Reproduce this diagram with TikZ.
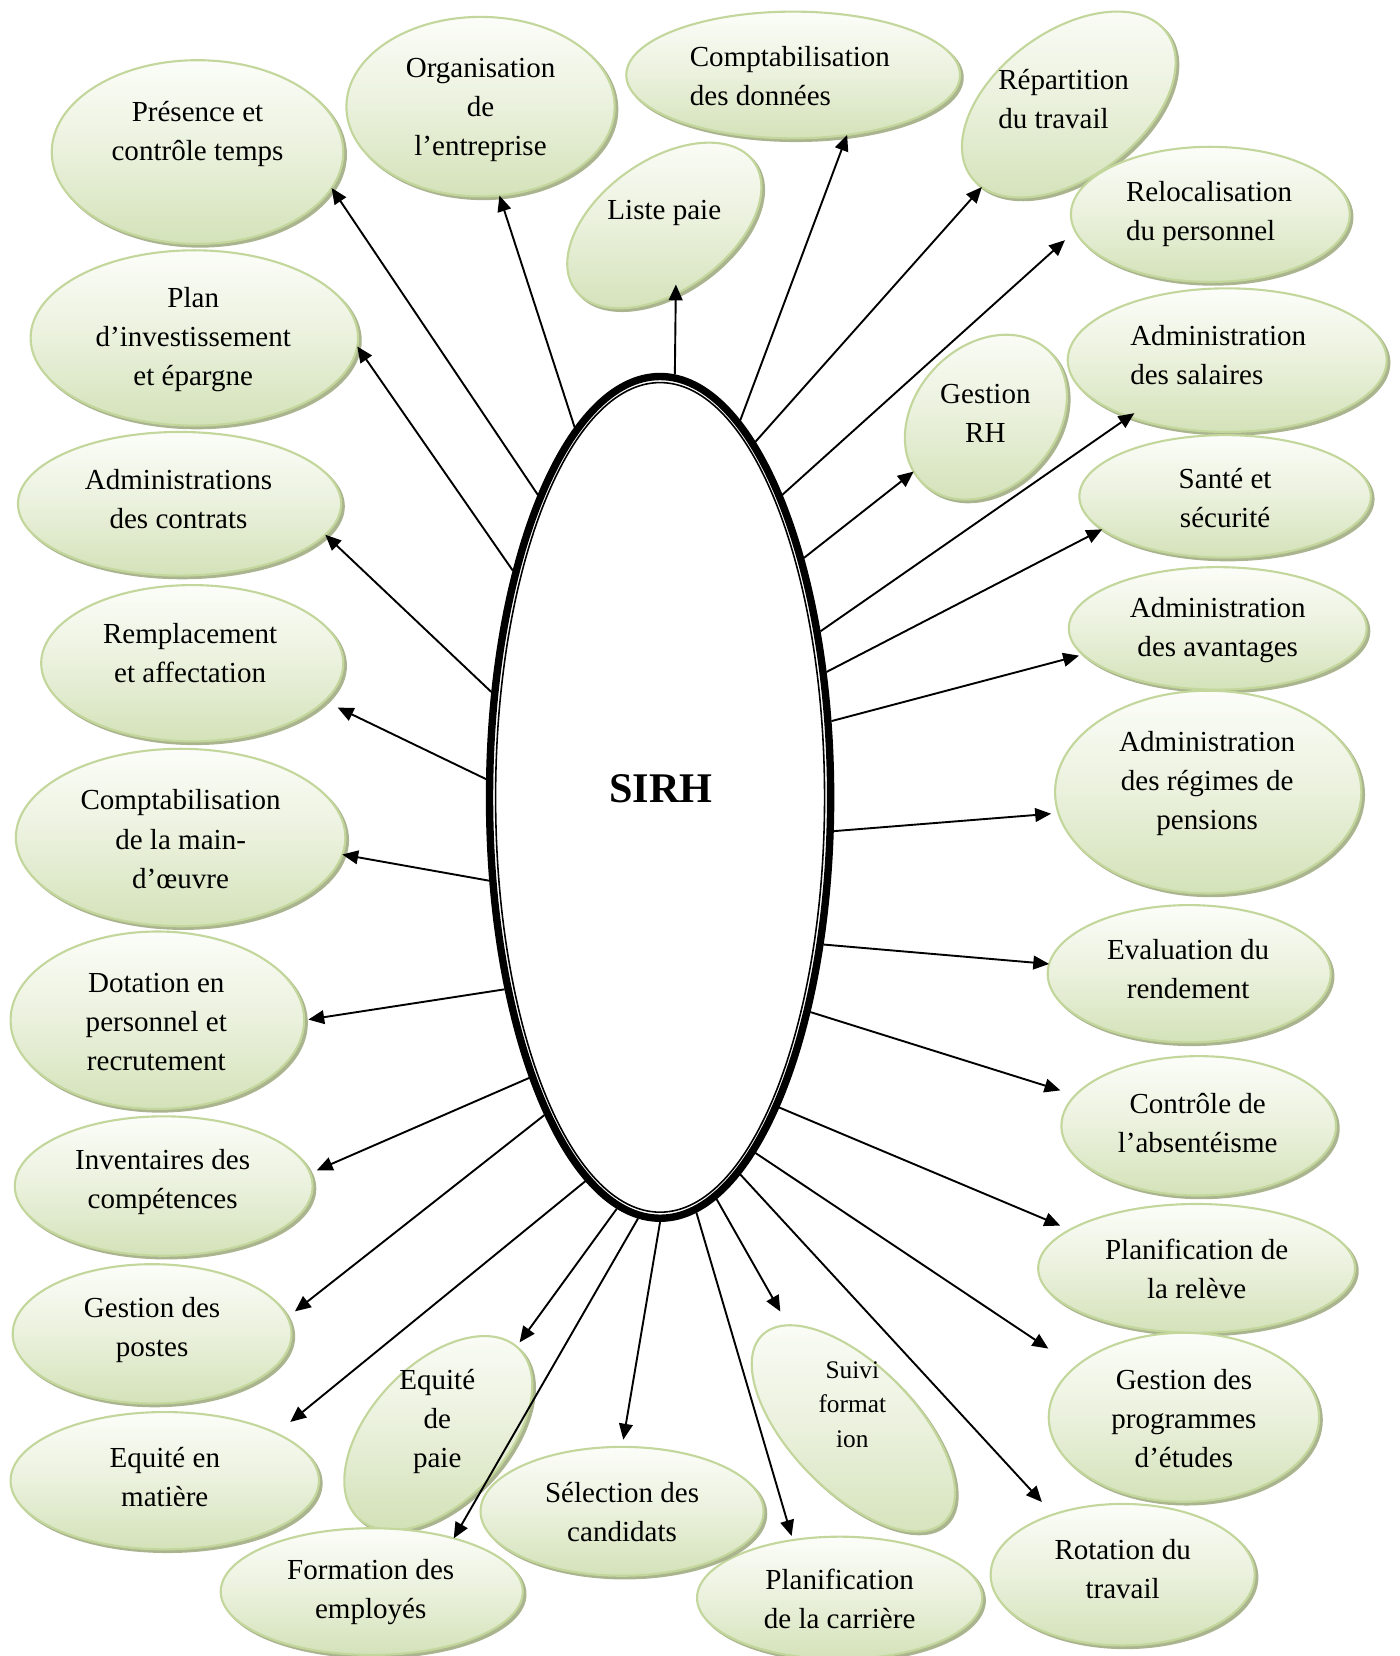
\documentclass[tikz,border=0pt]{standalone}
\usepackage{fontspec}
\setmainfont{Liberation Serif}
\usetikzlibrary{shapes.geometric, arrows.meta}

\definecolor{bubline}{RGB}{195,214,155}
\definecolor{bubtop}{RGB}{252,253,249}
\definecolor{bubbot}{RGB}{212,226,185}
\definecolor{bubshade}{RGB}{170,180,142}

% one green bubble with its drop shadow: name, centre, width, height, rotation
\newcommand\bubble[5]{%
  \node[bubshadow, rotate=#5, minimum width=#3pt, minimum height=#4pt] (#1-sh) at ([shift={(2.5,2.5)}]#2) {};
  \node[bubble, rotate=#5, minimum width=#3pt, minimum height=#4pt] (#1) at (#2) {};
}

\begin{document}
\begin{tikzpicture}[x=1pt, y=-1pt,
  bubble/.style={ellipse, draw=bubline, line width=2pt, top color=bubtop, bottom color=bubbot,
    middle color=bubtop!55!bubbot, inner sep=0pt, outer sep=0pt},
  bubshadow/.style={ellipse, draw=bubshade, fill=bubshade, line width=2pt, inner sep=0pt, outer sep=0pt},
  lbl/.style={font=\fontsize{27.5}{37}\selectfont, align=center, inner sep=0pt, yshift=-2pt},
  lbll/.style={lbl, align=left, anchor=west},
  link/.style={line width=1.8pt, -{Triangle[length=15pt, width=13pt]}},
]
\useasboundingbox (0,0) rectangle (1325,1568);

% satellites
\bubble{pres}{187,144}{276}{174}{0}
\bubble{orga}{455,101}{254}{170}{0}
\bubble{compd}{751,71}{316}{120}{0}
\bubble{liste}{629,213.5}{208}{123}{35.5}
\bubble{repart}{1012,99}{230}{138}{36.5}
\bubble{reloc}{1146,203}{264}{128}{0}
\bubble{grh}{933.5,395}{173}{134}{47}
\bubble{asal}{1162,341}{302}{136}{0}
\bubble{sante}{1160,470}{276}{116}{0}
\bubble{avant}{1153,595}{282}{116}{0}
\bubble{regim}{1144,750}{290}{192}{0}
\bubble{evalu}{1126,922}{268}{130}{0}
\bubble{absen}{1135,1066}{260}{132}{0}
\bubble{releve}{1133,1201}{300}{122}{0}
\bubble{progr}{1121,1342}{256}{160}{0}
\bubble{rotat}{1063,1491}{250}{134}{0}
\bubble{suivi}{808,1352.5}{247}{119}{-45.7}
\bubble{carr}{795,1513}{270}{116}{0}
\bubble{eqpaie}{415,1357}{221}{129}{46.9}
\bubble{selec}{589,1431}{268}{122}{0}
\bubble{forma}{352,1507}{286}{120}{0}
\bubble{eqmat}{156,1402}{292}{130}{0}
\bubble{gpost}{144,1263}{264}{132}{0}
\bubble{inven}{155,1123}{282}{132}{0}
\bubble{dotat}{149,966}{278}{168}{0}
\bubble{cmo}{171,793}{312}{168}{0}
\bubble{rempl}{182,628}{286}{148}{0}
\bubble{acont}{170,477}{306}{136}{0}
\bubble{plan}{184,320}{310}{166}{0}

% central ellipse with its double border
\node[ellipse, draw, line width=7pt, fill=white, minimum width=323pt, minimum height=797pt, inner sep=0pt] (sirh) at (625,755) {};
\draw[line width=1.5pt] (sirh.center) ellipse [x radius=155.75pt, y radius=392.75pt];
\node[font=\bfseries\fontsize{40}{48}\selectfont, inner sep=0pt] (sirh-t) at (626,747) {SIRH};

% connectors
\draw[link] (sirh.112) -- (pres.-15);
\draw[link] (sirh.103) -- (orga.-78.3);
\draw[link, shorten >=-9pt] (sirh.88.4) -- (liste.-116.5);
\draw[link] (sirh.78.5) -- (compd.-48.1);
\draw[link] (sirh.75.2) -- (repart.-173.6);
\draw[link, shorten >=13pt] (sirh.68.8) -- (reloc.-173.1);
\draw[link] (sirh.59) -- (grh.170.1);
\draw[link, shorten >=-6pt] (sirh.46.2) -- (asal.-150.6);
\draw[link] (sirh.37.1) -- (sante.-165.3);
\draw[link, shorten >=4pt] (sirh.24.2) -- (avant.-169.4);
\draw[link, shorten >=7pt] (sirh.-11.7) -- (regim.-172.8);
\draw[link] (sirh.-42.6) -- (evalu.176.2);
\draw[link, shorten >=15pt] (sirh.-55.8) -- (absen.166.9);
\draw[link, shorten >=10pt] (sirh.-69.6) -- (releve.163.4);
\draw[link, shorten >=31pt] (sirh.-75.5) -- (progr.155);
\draw[link, shorten >=16pt] (sirh.-78.8) -- (rotat.139.7);
\draw[link, shorten >=15pt] (sirh.-82.3) -- (suivi.168.8);
\draw[link, shorten >=4pt] (sirh.-85.6) -- (carr.129);
\draw[link, shorten >=7pt] (sirh.-90.6) -- (selec.90);
\draw[link] (sirh.-93.3) -- (forma.33);
\draw[link, shorten >=5pt] (sirh.-96.6) -- (eqpaie.1.6);
\draw[link, shorten >=17pt] (sirh.-101.8) -- (eqmat.23.4);
\draw[link, shorten >=9pt] (sirh.-110.1) -- (gpost.7.5);
\draw[link, shorten >=7pt] (sirh.-115.7) -- (inven.5.1);
\draw[link, shorten >=4pt] (sirh.-129.3) -- (dotat.0.4);
\draw[link] (sirh.-154.9) -- (cmo.-6.3);
\draw[link, shorten >=14pt] (sirh.174.8) -- (rempl.-16.1);
\draw[link] (sirh.148.5) -- (acont.-12.8);
\draw[link] (sirh.123.6) -- (plan.-3.8);

% labels
\node[lbl] (pres-t) at (187,124.5) {Présence et\\contrôle temps};
\node[lbl] (orga-t) at (455,102) {Organisation\\de\\l’entreprise};
\node[lbll] (compd-t) at (653,70) {Comptabilisation\\des données};
\node[lbl] (liste-t) at (629,200) {Liste paie};
\node[lbll] (repart-t) at (945,91.5) {Répartition\\du travail};
\node[lbll] (reloc-t) at (1066,200.5) {Relocalisation\\du personnel};
\node[lbl] (grh-t) at (933,389.5) {Gestion\\RH};
\node[lbll] (asal-t) at (1070,334.5) {Administration\\des salaires};
\node[lbl] (sante-t) at (1160,469.5) {Santé et\\sécurité};
\node[lbl] (avant-t) at (1153,595) {Administration\\des avantages};
\node[lbl] (regim-t) at (1143,740) {Administration\\des régimes de\\pensions};
\node[lbl] (evalu-t) at (1125,915.5) {Evaluation du\\rendement};
\node[lbl] (absen-t) at (1134,1061.5) {Contrôle de\\l’absentéisme};
\node[lbl] (releve-t) at (1133,1199.5) {Planification de\\la relève};
\node[lbl] (progr-t) at (1121,1341.5) {Gestion des\\programmes\\d’études};
\node[lbl] (rotat-t) at (1063,1484) {Rotation du\\travail};
\node[lbl] (carr-t) at (795,1512) {Planification\\de la carrière};
\node[lbl, font=\fontsize{24}{33}\selectfont] (suivi-t) at (807,1328) {Suivi\\format\\ion};
\node[lbl] (selec-t) at (589,1430) {Sélection des\\candidats};
\node[lbl] (eqpaie-t) at (414,1344) {Equité\\de\\paie};
\node[lbl] (forma-t) at (351,1505.5) {Formation des\\employés};
\node[lbl] (eqmat-t) at (156,1396.5) {Equité en\\matière};
\node[lbl] (gpost-t) at (144,1257) {Gestion des\\postes};
\node[lbl] (inven-t) at (154,1117.5) {Inventaires des\\compétences};
\node[lbl] (dotat-t) at (148,966) {Dotation en\\personnel et\\recrutement};
\node[lbl] (cmo-t) at (171,792.5) {Comptabilisation\\de la main-\\d’œuvre};
\node[lbl] (rempl-t) at (180,616) {Remplacement\\et affectation};
\node[lbl] (acont-t) at (169,470.5) {Administrations\\des contrats};
\node[lbl] (plan-t) at (183,319.5) {Plan\\d’investissement\\et épargne};
\end{tikzpicture}
\end{document}
